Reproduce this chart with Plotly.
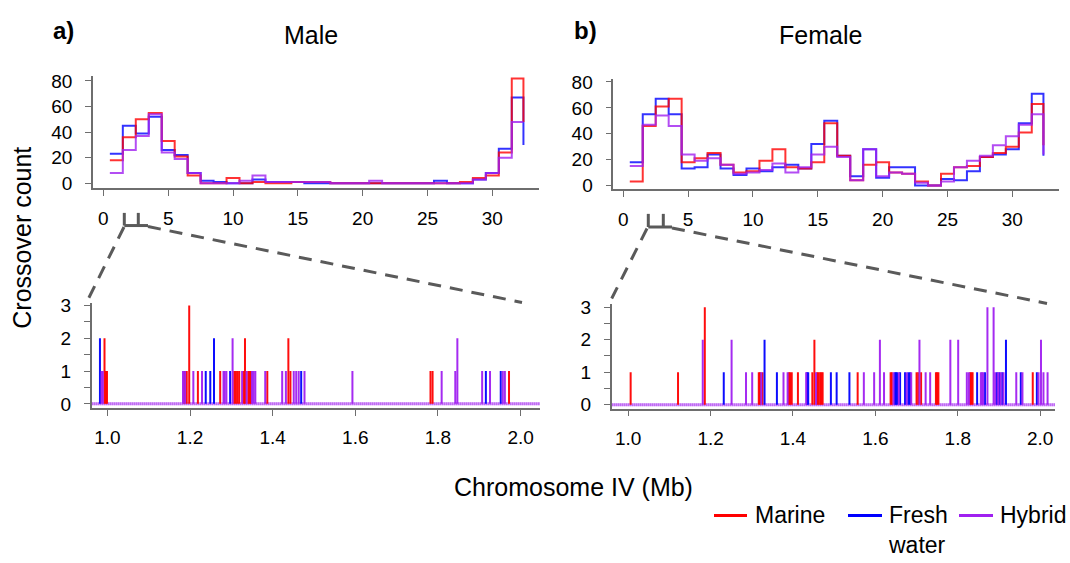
import plotly.graph_objects as go

W, H = 1070, 563
FONT = "Liberation Sans, Arial, sans-serif"

# ---------------- data ----------------
SERIES = ["Marine", "Fresh\nwater", "Hybrid"]
COLORS = ["rgba(255,0,0,0.8)", "rgba(0,0,255,0.8)", "rgba(160,32,240,0.8)"]

# start of each 1-Mb window on chromosome IV (last entry = chromosome end)
BIN_START_MB = [0.5, 1.5, 2.5, 3.5, 4.5, 5.5, 6.5, 7.5, 8.5, 9.5, 10.5, 11.5, 12.5,
                13.5, 14.5, 15.5, 16.5, 17.5, 18.5, 19.5, 20.5, 21.5, 22.5, 23.5,
                24.5, 25.5, 26.5, 27.5, 28.5, 29.5, 30.5, 31.5, 32.4]

male_marine = [18, 36, 50, 55, 33, 21, 6, 0, 0, 4, 0, 1, 0, 0, 1, 1, 1, 0, 0, 0, 0, 0,
               0, 0, 0, 0, 0, 1, 4, 6, 24, 82, 48]
male_fresh = [23, 45, 39, 52, 26, 22, 8, 2, 1, 0, 0, 3, 1, 1, 1, 0, 0, 0, 0, 0, 0, 0,
              0, 0, 0, 2, 0, 0, 3, 8, 27, 67, 30]
male_hybrid = [8, 26, 37, 54, 24, 19, 8, 0, 0, 0, 2, 6, 1, 1, 1, 1, 1, 0, 0, 0, 2, 0,
               0, 0, 0, 0, 0, 0, 3, 8, 20, 48, 48]

female_marine = [3, 46, 61, 67, 18, 21, 25, 16, 10, 11, 19, 28, 14, 13, 18, 48, 23, 4,
                 16, 18, 10, 9, 3, 0, 9, 14, 15, 22, 25, 30, 41, 63, 31]
female_fresh = [18, 55, 67, 55, 13, 14, 24, 13, 8, 13, 11, 14, 16, 13, 32, 50, 23, 7,
                28, 6, 14, 14, 0, 0, 5, 4, 11, 22, 24, 28, 48, 71, 23]
female_hybrid = [15, 47, 54, 46, 24, 19, 21, 16, 9, 10, 12, 17, 10, 14, 24, 30, 22, 4,
                 28, 7, 10, 9, 2, 0, 3, 14, 19, 23, 31, 38, 47, 55, 24]

# crossover positions (Mb) in the 1-2 Mb zoom window and counts at each position
male_marine_pos = [0.993, 0.996, 0.999, 1.186, 1.192, 1.198, 1.219, 1.273, 1.307, 1.311,
                   1.315, 1.319, 1.330, 1.333, 1.341, 1.344, 1.347, 1.387, 1.438, 1.443,
                   1.782, 1.787, 1.972]
male_marine_n = [2, 1, 1, 1, 1, 3, 1, 1, 1, 1, 1, 1, 1, 2, 1, 1, 1, 1, 2, 1, 1, 1, 1]
male_fresh_pos = [0.982, 1.238, 1.249, 1.258, 1.297, 1.469, 1.916, 1.952]
male_fresh_n = [2, 1, 1, 2, 1, 1, 1, 1]
male_hybrid_pos = [0.986, 0.989, 1.183, 1.188, 1.208, 1.229, 1.281, 1.284, 1.288, 1.303,
                   1.326, 1.337, 1.350, 1.354, 1.358, 1.382, 1.423, 1.432, 1.451, 1.457,
                   1.463, 1.477, 1.593, 1.809, 1.842, 1.847, 1.907, 1.926, 1.957, 1.962]
male_hybrid_n = [1, 1, 1, 1, 1, 1, 1, 1, 1, 2, 1, 1, 1, 1, 1, 1, 1, 1, 1, 1, 1, 1, 1, 1,
                 1, 2, 1, 1, 1, 1]

female_marine_pos = [1.006, 1.121, 1.186, 1.317, 1.320, 1.326, 1.390, 1.393, 1.397, 1.412,
                     1.447, 1.452, 1.459, 1.462, 1.466, 1.469, 1.472, 1.557, 1.637, 1.640,
                     1.700, 1.704, 1.711, 1.747, 1.750, 1.753, 1.830, 1.833, 1.836, 1.982]
female_marine_n = [1, 1, 3, 1, 1, 1, 1, 1, 1, 1, 1, 2, 1, 1, 1, 1, 1, 1, 1, 1, 1, 1, 1, 1,
                   1, 1, 1, 1, 1, 1]
female_fresh_pos = [1.232, 1.331, 1.361, 1.434, 1.437, 1.492, 1.506, 1.537, 1.647, 1.650,
                    1.653, 1.660, 1.672, 1.680, 1.684, 1.847, 1.866, 1.895, 1.901, 1.908,
                    1.917, 1.953, 1.992]
female_fresh_n = [1, 2, 1, 1, 1, 1, 1, 1, 1, 1, 1, 1, 1, 1, 1, 1, 1, 1, 1, 1, 2, 1, 1]
female_hybrid_pos = [1.181, 1.251, 1.286, 1.301, 1.323, 1.377, 1.387, 1.432, 1.456, 1.572,
                     1.597, 1.611, 1.621, 1.644, 1.657, 1.676, 1.687, 1.707, 1.722, 1.733,
                     1.782, 1.801, 1.822, 1.827, 1.856, 1.859, 1.862, 1.872, 1.887, 1.891,
                     1.898, 1.904, 1.911, 1.942, 1.957, 1.996, 2.002, 2.008, 2.018]
female_hybrid_n = [2, 2, 1, 1, 1, 1, 1, 1, 1, 1, 1, 2, 1, 1, 1, 1, 1, 2, 1, 1, 2, 2, 1, 1,
                   1, 1, 1, 3, 3, 1, 1, 1, 1, 1, 1, 1, 2, 1, 1]

TOP_XTICKS = [0, 5, 10, 15, 20, 25, 30]
TOP_YTICKS = [0, 20, 40, 60, 80]
ZOOM_XTICKS = [1.0, 1.2, 1.4, 1.6, 1.8, 2.0]
ZOOM_YTICKS = [0, 0.5, 1, 1.5, 2, 2.5, 3]
ZOOM_YLABELS = ["0", "", "1", "", "2", "", "3"]


def px(x):
    return x / W


def py(y):
    return 1 - y / H


fig = go.Figure()

# ---------- top histograms (step lines) ----------
top_sets = [("x", "y", [male_marine, male_fresh, male_hybrid]),
            ("x2", "y2", [female_marine, female_fresh, female_hybrid])]
for xa, ya, vals in top_sets:
    for idx in [1, 0, 2]:
        fig.add_trace(go.Scatter(
            x=BIN_START_MB, y=vals[idx], mode="lines",
            line=dict(shape="hv", color=COLORS[idx], width=2),
            xaxis=xa, yaxis=ya, showlegend=False, hoverinfo="skip"))


# ---------- zoomed spike plots ----------
def spikes(pos, n):
    xs, ys = [], []
    for p, c in zip(pos, n):
        xs += [p, p, None]
        ys += [0, c, None]
    return xs, ys


bottom_sets = [("x3", "y3", [(male_marine_pos, male_marine_n),
                             (male_fresh_pos, male_fresh_n),
                             (male_hybrid_pos, male_hybrid_n)]),
               ("x4", "y4", [(female_marine_pos, female_marine_n),
                             (female_fresh_pos, female_fresh_n),
                             (female_hybrid_pos, female_hybrid_n)])]
for xa, ya, sets in bottom_sets:
    for idx in [0, 1, 2]:
        xs, ys = spikes(*sets[idx])
        fig.add_trace(go.Scatter(
            x=xs, y=ys, mode="lines",
            line=dict(color=COLORS[idx].replace("0.8", "0.95"), width=2),
            xaxis=xa, yaxis=ya, showlegend=False, hoverinfo="skip"))

# ---------- axes ----------
common = dict(showline=True, linecolor="#6e6e6e", linewidth=1.5, ticks="outside",
              ticklen=6, tickwidth=1.2, tickcolor="#6e6e6e", showgrid=False,
              zeroline=False, fixedrange=True,
              tickfont=dict(family=FONT, size=19, color="black"))

X1 = (-0.8, 33.6)
X2 = (-0.77, 33.6)
X3 = (0.962, 2.047)
X4 = (0.960, 2.036)

fig.update_layout(
    xaxis=dict(domain=[px(93), px(539)], range=list(X1), anchor="y",
               tickvals=TOP_XTICKS, ticklabelstandoff=6, **common),
    yaxis=dict(domain=[py(185), py(70)], range=[-3.81, 83.8], anchor="x",
               tickvals=TOP_YTICKS, ticklabelstandoff=9, **common),
    xaxis2=dict(domain=[px(613.3), px(1059)], range=list(X2), anchor="y2",
                tickvals=TOP_XTICKS, ticklabelstandoff=6, **common),
    yaxis2=dict(domain=[py(186), py(72.7)], range=[-2.8, 82.5], anchor="x2",
                tickvals=TOP_YTICKS, ticklabelstandoff=9, **common),
    xaxis3=dict(domain=[px(91.7), px(540)], range=list(X3), anchor="y3",
                tickvals=ZOOM_XTICKS, ticktext=[f"{v:.1f}" for v in ZOOM_XTICKS],
                ticklabelstandoff=6, **common),
    yaxis3=dict(domain=[py(410.7), py(303.3)], range=[-0.119, 3.07], anchor="x3",
                tickvals=ZOOM_YTICKS, ticktext=ZOOM_YLABELS, ticklabelstandoff=9, **common),
    xaxis4=dict(domain=[px(611.7), px(1055)], range=list(X4), anchor="y4",
                tickvals=ZOOM_XTICKS, ticktext=[f"{v:.1f}" for v in ZOOM_XTICKS],
                ticklabelstandoff=6, **common),
    yaxis4=dict(domain=[py(411.7), py(304)], range=[-0.12, 3.1], anchor="x4",
                tickvals=ZOOM_YTICKS, ticktext=ZOOM_YLABELS, ticklabelstandoff=9, **common),
)

shapes = []
# purple baseline of the zoom panels
for xa, ya, rng in [("x3", "y3", X3), ("x4", "y4", X4)]:
    shapes.append(dict(type="line", xref=xa, yref=ya, x0=rng[0], x1=rng[1], y0=0, y1=0,
                       line=dict(color="rgba(160,32,240,0.7)", width=3,
                                 dash="1px,1px"), layer="below"))
    shapes.append(dict(type="line", xref=xa, yref=ya, x0=rng[0], x1=rng[1], y0=0, y1=0,
                       line=dict(color="rgba(160,32,240,0.35)", width=3), layer="below"))

# zoom brackets and dashed connectors (pixel coordinates)
GREY = "#5a5a5a"
brackets = [
    dict(v1=124.3, v2=138.3, top=210.5, base=223.5, tail=148,
         left=((124, 225), (88.5, 298.5)), right=((148, 224.5), (522, 302.5))),
    dict(v1=648.3, v2=663.3, top=211.5, base=225, tail=672,
         left=((647, 226.5), (611.7, 298.5)), right=((672, 226), (1047, 303.5))),
]
for b in brackets:
    for vx in (b["v1"], b["v2"]):
        shapes.append(dict(type="line", xref="paper", yref="paper",
                           x0=px(vx), x1=px(vx), y0=py(b["top"]), y1=py(b["base"]),
                           line=dict(color=GREY, width=3)))
    shapes.append(dict(type="line", xref="paper", yref="paper",
                       x0=px(b["v1"]), x1=px(b["tail"]), y0=py(b["base"]), y1=py(b["base"]),
                       line=dict(color=GREY, width=3)))
    for (a, c) in (b["left"], b["right"]):
        shapes.append(dict(type="line", xref="paper", yref="paper",
                           x0=px(a[0]), y0=py(a[1]), x1=px(c[0]), y1=py(c[1]),
                           line=dict(color=GREY, width=3, dash="13px,9px")))

# legend swatches + labels
LEG_Y = 521.5
LEG_LINES = [(714, 747), (848, 882), (959, 993)]
LEG_TEXT_X = [754, 887, 999]
annotations = []
for i, name in enumerate(SERIES):
    x0, x1 = LEG_LINES[i]
    shapes.append(dict(type="line", xref="paper", yref="paper", x0=px(x0), x1=px(x1),
                       y0=py(LEG_Y), y1=py(LEG_Y),
                       line=dict(color=COLORS[i].replace("0.8", "1"), width=3)))
    annotations.append(dict(text=name.replace("\n", "<br>"), x=px(LEG_TEXT_X[i]),
                            y=py(LEG_Y - 15), xref="paper", yref="paper",
                            xanchor="left", yanchor="top", align="left",
                            showarrow=False, borderpad=0,
                            font=dict(family=FONT, size=23, color="black")))

# titles and labels
annotations += [
    dict(text="<b>a)</b>", x=px(63), y=py(23), font=dict(size=24)),
    dict(text="<b>b)</b>", x=px(585), y=py(23), font=dict(size=24)),
    dict(text="Male", x=px(311), y=py(28), font=dict(size=25)),
    dict(text="Female", x=px(820), y=py(28), font=dict(size=25)),
    dict(text="Crossover count", x=px(22), y=py(236), textangle=-90, font=dict(size=25)),
    dict(text="Chromosome IV (Mb)", x=px(573), y=py(492), font=dict(size=25)),
]
for a in annotations[-6:]:
    a.update(xref="paper", yref="paper", xanchor="center", yanchor="middle", showarrow=False)
    a["font"].update(family=FONT, color="black")

fig.update_layout(
    width=W, height=H, margin=dict(l=0, r=0, t=0, b=0),
    paper_bgcolor="white", plot_bgcolor="white",
    shapes=shapes, annotations=annotations, showlegend=False,
)

fig.write_html("out.html", config={"displayModeBar": False})
